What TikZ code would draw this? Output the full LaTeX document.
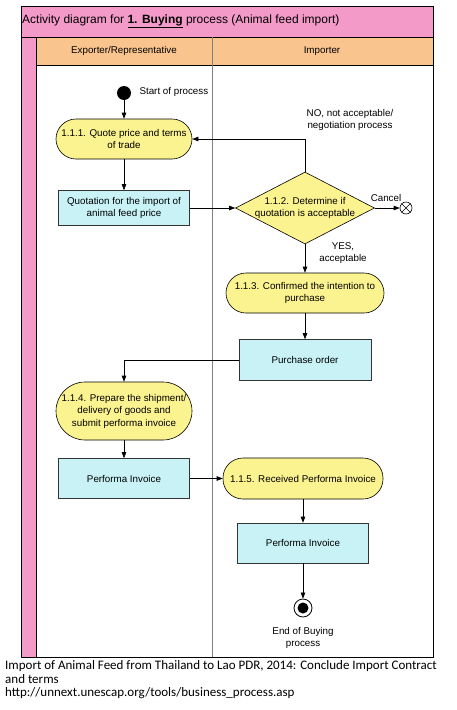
\documentclass[tikz,border=0pt]{standalone}
\usepackage{fontspec}
\setmainfont{Liberation Sans}
\newfontfamily\capfont{Carlito}
\usetikzlibrary{arrows.meta,positioning,shapes.geometric}
\definecolor{Pool}{HTML}{F49AC9}
\definecolor{LaneHead}{HTML}{FAC48E}
\definecolor{Action}{HTML}{FBF38F}
\definecolor{Doc}{HTML}{C8F2F6}
\definecolor{Rule}{HTML}{7F7F7F}
\tikzset{actionbox/.style={rectangle,rounded corners=20pt,draw=black,line width=0.6pt,fill=Action,minimum width=136pt,minimum height=40pt,align=center,inner sep=1pt},docbox/.style={rectangle,draw=black!80,line width=0.6pt,fill=Doc,minimum width=131pt,minimum height=40pt,align=center},decision/.style={diamond,aspect=1.93,draw=black,line width=0.6pt,fill=Action,minimum width=139pt,minimum height=72pt,inner sep=-1.5pt,align=center},flow/.style={draw=black,line width=0.6pt,-{Triangle[length=6pt,width=4.5pt]}},remark/.style={align=center}}

\begin{document}
\begin{tikzpicture}[x=1pt,y=-1pt,font=\fontsize{9.8}{12.5}\selectfont]
\fill[white] (0,0) rectangle (457,710);
\useasboundingbox (0,0) rectangle (457,710);
% pool and lanes
\fill[Pool] (21,6) rectangle (433,37);
\fill[Pool] (21,37) rectangle (36,657);
\fill[LaneHead] (36,37) rectangle (433,65);
\draw[line width=0.8pt] (21,6) rectangle (433,657);
\draw (21,37) -- (433,37);\draw (36,37) -- (36,657);\draw (36,65) -- (433,65);
\draw[Rule] (212,37) -- (212,657);
\node[anchor=west,inner sep=0pt,font=\fontsize{12}{14}\selectfont] (title) at (22,21) {Activity diagram for \underline{\textbf{1. Buying}} process (Animal feed import)};
\node (lane1) at (124,51) {Exporter/Representative};
\node (lane2) at (322,51) {Importer};
% activities
\node[circle,fill=black,minimum size=14pt,inner sep=0pt] (start) at (124,93) {};
\node[anchor=west] (startlbl) at (136,92) {Start of process};
\node[actionbox] (a111) at (124,139) {1.1.1. Quote price and terms\\of trade};
\node[docbox,minimum height=35pt] (quote) at (124,208) {Quotation for the import of\\animal feed price};
\node[decision] (d112) at (305,208) {1.1.2. Determine if\\quotation is acceptable};
\node[circle,draw,line width=0.6pt,minimum size=12pt,inner sep=0pt] (cancel) at (406,208) {};
\draw[line width=0.6pt] (cancel.45) -- (cancel.225) (cancel.135) -- (cancel.315);
\node[remark] (nolbl) at (350,120) {NO, not acceptable/\\negotiation process};
\node[remark] (yeslbl) at (343,253) {YES,\\acceptable};
\node[actionbox,minimum width=158pt] (a113) at (305,293) {1.1.3. Confirmed the intention to\\purchase};
\node[docbox,minimum width=132pt,minimum height=41pt] (po) at (305,360) {Purchase order};
\node[actionbox,minimum height=58pt,rounded corners=29pt] (a114) at (124,411) {1.1.4. Prepare the shipment/\\delivery of goods and\\submit performa invoice};
\node[docbox] (pi1) at (124,478.5) {Performa Invoice};
\node[actionbox,minimum width=160pt,minimum height=41pt] (a115) at (303,478.5) {1.1.5. Received Performa Invoice};
\node[docbox] (pi2) at (303,543) {Performa Invoice};
\node[circle,draw,line width=0.8pt,minimum size=18pt,inner sep=0pt] (end) at (303,608) {};
\fill (end) circle (5.5pt);
\node[remark] (endlbl) at (303,638) {End of Buying\\process};
% flows
\draw[flow] (start) -- (a111);
\draw[flow] (a111) -- (quote);
\draw[flow] (quote) -- (d112);
\draw[flow] (d112) -- node[above,pos=0.45,yshift=3pt] (cancellbl) {Cancel} (cancel);
\draw[flow] (d112.north) |- (a111.east);
\draw[flow] (d112) -- (a113);
\draw[flow] (a113) -- (po);
\draw[flow] (po.west) -| (a114.north);
\draw[flow] (a114) -- (pi1);
\draw[flow] (pi1) -- (a115);
\draw[flow] (a115) -- (pi2);
\draw[flow] (pi2) -- (end);
% source
\node[anchor=north west,align=left,inner sep=0pt,font=\capfont\fontsize{13}{13.8}\selectfont] (source) at (5,660) {Import of Animal Feed from Thailand to Lao PDR, 2014: Conclude Import Contract\\and terms\\http://unnext.unescap.org/tools/business\_process.asp};
\end{tikzpicture}
\end{document}
